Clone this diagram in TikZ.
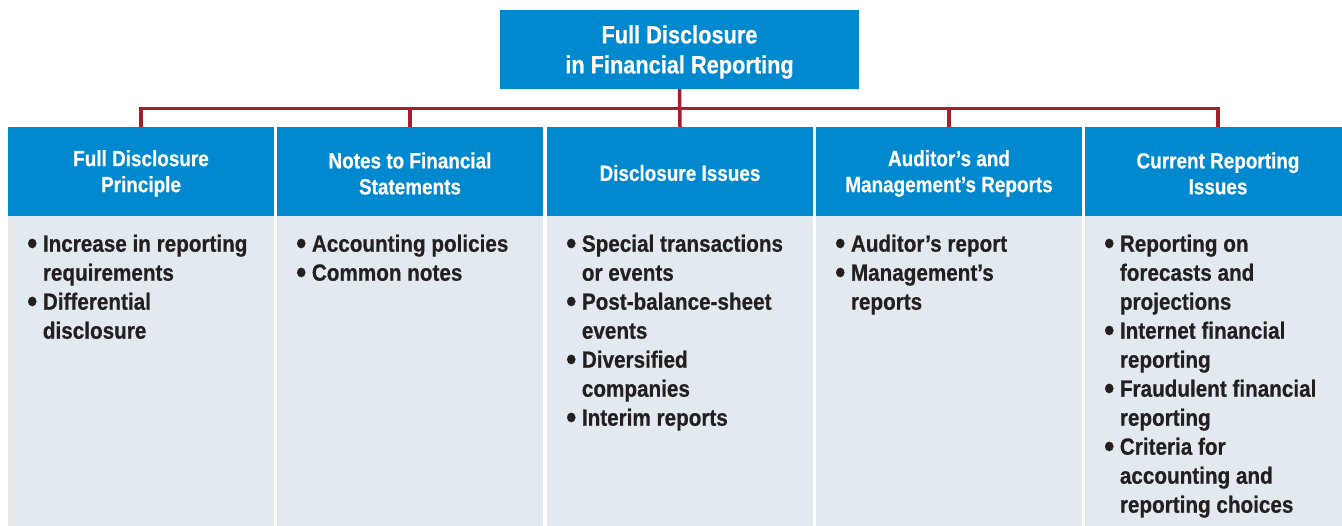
\documentclass[tikz,border=0pt]{standalone}
\usepackage{fontspec}
\newfontfamily\titlefont{Liberation Sans}[FakeStretch=0.87,FakeBold=0.5]
\newfontfamily\hdrfont{Liberation Sans}[FakeStretch=0.86,FakeBold=0.5]
\newfontfamily\bodyfont{Liberation Sans}[FakeStretch=0.88,FakeBold=0.6]
\definecolor{hdrblue}{RGB}{0,137,207}
\definecolor{bodybg}{RGB}{226,234,240}
\definecolor{linkred}{RGB}{166,30,45}
\definecolor{inktxt}{RGB}{35,31,32}
\newcommand{\bul}{\makebox[15.7pt][l]{\smash{\raisebox{-2.6pt}{\scalebox{1.4}{•}}}}}
\newcommand{\ind}{\hspace*{15.7pt}}
\tikzset{
  titlebox/.style={fill=hdrblue, text=white, minimum width=359pt, minimum height=79pt, inner sep=0pt, align=center, font=\titlefont\bfseries\fontsize{25}{30}\selectfont},
  hdrbox/.style={fill=hdrblue, text=white, minimum width=266pt, minimum height=89pt, inner sep=0pt, align=center, font=\hdrfont\bfseries\fontsize{22}{26}\selectfont},
  bodybox/.style={fill=bodybg, minimum width=266pt, minimum height=320pt, inner sep=0pt, anchor=north west},
  bodytext/.style={anchor=north west, inner sep=0pt, align=left, text=inktxt, font=\bodyfont\bfseries\fontsize{23.5}{29}\selectfont},
  hdrtext/.style={inner sep=0pt, align=center, text=white, font=\hdrfont\bfseries\fontsize{22}{26}\selectfont},
  link/.style={draw=linkred, line width=3.5pt}
}
\begin{document}
\begin{tikzpicture}[x=1pt,y=-1pt]
\useasboundingbox (0,0) rectangle (1342,526);
\clip (0,0) rectangle (1342,526);
\node[titlebox] (top) at (679.5,49.5) {};
\node[inner sep=0pt, align=center, text=white, font=\titlefont\bfseries\fontsize{25}{30}\selectfont] (toptext) at (679.5,52) {Full Disclosure\\in Financial Reporting};
% headers
\node[hdrbox] (h1) at (141,171.5) {};
\node[hdrbox] (h2) at (410,171.5) {};
\node[hdrbox] (h3) at (680,171.5) {};
\node[hdrbox] (h4) at (949,171.5) {};
\node[hdrbox] (h5) at (1218,171.5) {};
\node[hdrtext] (ht1) at (141,173.5) {Full Disclosure\\Principle};
\node[hdrtext] (ht2) at (410,173.5) {Notes to Financial\\Statements};
\node[hdrtext] (ht3) at (680,173) {Disclosure Issues};
\node[hdrtext] (ht4) at (949,173.5) {Auditor’s and\\Management’s Reports};
\node[hdrtext] (ht5) at (1218,173.5) {Current Reporting\\Issues};
% body backgrounds
\node[bodybox] (bb1) at (8,216) {};
\node[bodybox] (bb2) at (277,216) {};
\node[bodybox] (bb3) at (547,216) {};
\node[bodybox] (bb4) at (816,216) {};
\node[bodybox] (bb5) at (1085,216) {};
% body texts
\node[bodytext] (t1) at (27,234.5) {\bul Increase in reporting\\\ind requirements\\\bul Differential\\\ind disclosure};
\node[bodytext] (t2) at (296,234.5) {\bul Accounting policies\\\bul Common notes};
\node[bodytext] (t3) at (566,234.5) {\bul Special transactions\\\ind or events\\\bul Post-balance-sheet\\\ind events\\\bul Diversified\\\ind companies\\\bul Interim reports};
\node[bodytext] (t4) at (835,234.5) {\bul Auditor’s report\\\bul Management’s\\\ind reports};
\node[bodytext] (t5) at (1104,234.5) {\bul Reporting on\\\ind forecasts and\\\ind projections\\\bul Internet financial\\\ind reporting\\\bul Fraudulent financial\\\ind reporting\\\bul Criteria for\\\ind accounting and\\\ind reporting choices};
% connectors
\coordinate (j) at (679.5,108.5);
\draw[link] (top.south) -- (h3.north);
\draw[link] (h1.north) -- (h1.north |- j) -- (h5.north |- j) -- (h5.north);
\draw[link] (h2.north) -- (h2.north |- j);
\draw[link] (h4.north) -- (h4.north |- j);
\end{tikzpicture}
\end{document}
